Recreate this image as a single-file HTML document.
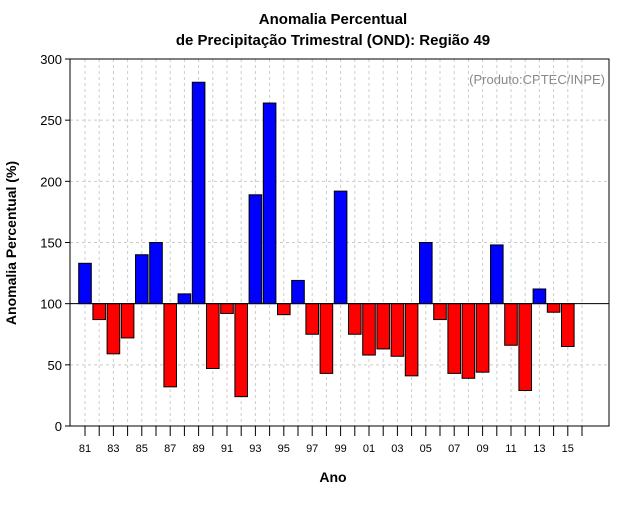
<!DOCTYPE html>
<html><head><meta charset="utf-8"><style>
body{margin:0;background:#fff;width:640px;height:500px;overflow:hidden;font-family:"Liberation Sans",sans-serif}
</style></head><body>
<svg width="640" height="500" id="svg" font-family="Liberation Sans, sans-serif">
<text x="333" y="24" text-anchor="middle" font-size="15" font-weight="bold">Anomalia Percentual</text>
<text x="333" y="45" text-anchor="middle" font-size="15" font-weight="bold">de Precipitação Trimestral (OND): Região 49</text>
<text x="605" y="84" text-anchor="end" font-size="13" fill="#888">(Produto:CPTEC/INPE)</text>
<text transform="translate(16,243) rotate(-90)" text-anchor="middle" font-size="14" font-weight="bold">Anomalia Percentual (%)</text>
<text x="333" y="482" text-anchor="middle" font-size="14" font-weight="bold">Ano</text>
<g id="g"></g>
</svg>
<script>
const years=[81,82,83,84,85,86,87,88,89,90,91,92,93,94,95,96,97,98,99,0,1,2,3,4,5,6,7,8,9,10,11,12,13,14,15,16];
const values=[133,87,59,72,140,150,32,108,281,47,92,24,189,264,91,119,75,43,192,75,58,63,57,41,150,87,43,39,44,148,66,29,112,93,65,null];
const yTicks=[0,50,100,150,200,250,300];
const L=70,R=609,T=59,B=426;
const ns="http://www.w3.org/2000/svg",g=document.getElementById('g');
const y=v=>B-(v/300)*(B-T);
const x=i=>85+i*14.2;
function mk(t,a){const e=document.createElementNS(ns,t);for(const k in a)e.setAttribute(k,a[k]);g.appendChild(e);return e;}
yTicks.forEach(v=>{
 if(v>0&&v<300){const l=mk('line',{x1:L,x2:R,y1:y(v),y2:y(v),stroke:'#ccc','stroke-dasharray':'3,3'});
 
 }
 const tk=mk('line',{x1:L-5,x2:L,y1:y(v),y2:y(v),stroke:'#000'});
 
 
 const t=mk('text',{x:L-8,y:y(v)+5,'text-anchor':'end','font-size':'13'});t.textContent=v;
 
 
});
years.forEach((yr,i)=>{
 const l=mk('line',{x1:x(i),x2:x(i),y1:T,y2:B,stroke:'#ccc','stroke-dasharray':'3,3'});
 
 
 const tk=mk('line',{x1:x(i),x2:x(i),y1:B,y2:B+10,stroke:'#000'});
 
 
 if(i%2===0){const t=mk('text',{x:x(i),y:452,'text-anchor':'middle','font-size':'11'});t.textContent=String(yr).padStart(2,'0');
 
 }
});
values.forEach((v,i)=>{
 if(v==null)return;
 const top=Math.min(y(v),y(100)),h=Math.abs(y(v)-y(100));
 const r=mk('rect',{x:x(i)-6.3,y:top,width:12.6,height:h,fill:v>=100?'#0000ff':'#ff0000',stroke:'#000','stroke-width':1});
 
 
});
const base=mk('line',{x1:L,x2:R,y1:y(100),y2:y(100),stroke:'#000'});


const fr=mk('rect',{x:L,y:T,width:R-L,height:B-T,fill:'none',stroke:'#000'});


</script>
</body></html>
